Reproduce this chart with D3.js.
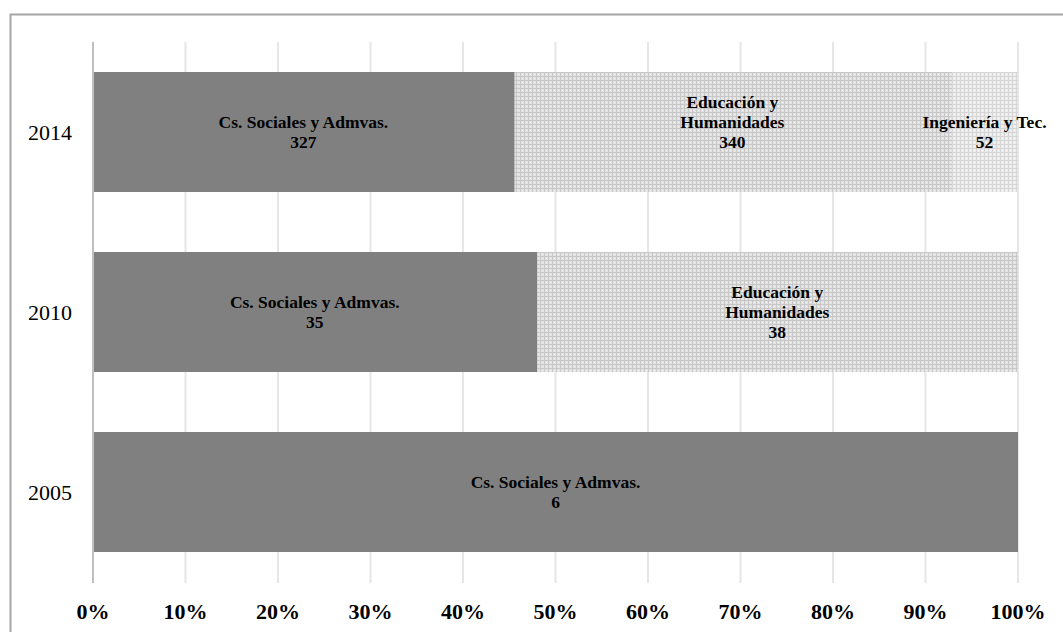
<!DOCTYPE html>
<html>
<head>
<meta charset="utf-8">
<script src="https://cdn.jsdelivr.net/npm/d3@7"></script>
<style>
  body { margin: 0; background: #fff; }
  svg { display: block; }
</style>
</head>
<body>
<div id="chart"></div>
<script>
// Data: counts per area and year (shown as share of the year total)
var years = ["2014", "2010", "2005"];
var areas = ["Cs. Sociales y Admvas.", "Educación y Humanidades", "Ingeniería y Tec."];
var sociales = [327, 35, 6];
var educacion = [340, 38, 0];
var ingenieria = [52, 0, 0];
var xTicks = [0, 0.1, 0.2, 0.3, 0.4, 0.5, 0.6, 0.7, 0.8, 0.9, 1];

// label lines for each area (how the original wraps them)
var labelLines = [
  ["Cs. Sociales y Admvas."],
  ["Educación y", "Humanidades"],
  ["Ingeniería y Tec."]
];

var width = 1063, height = 632;

var svg = d3.select("#chart")
  .append("svg")
  .attr("width", width)
  .attr("height", height);

// patterns for the light series
var defs = svg.append("defs");
var p1 = defs.append("pattern")
  .attr("id", "patEdu")
  .attr("width", 4).attr("height", 4)
  .attr("patternUnits", "userSpaceOnUse");
p1.append("rect").attr("width", 4).attr("height", 4).attr("fill", "#e2e2e2");
p1.append("rect").attr("width", 4).attr("height", 1).attr("fill", "#c8c8c8");
p1.append("rect").attr("width", 1).attr("height", 4).attr("fill", "#c8c8c8");
p1.append("rect").attr("x", 2).attr("y", 2).attr("width", 1).attr("height", 1).attr("fill", "#f4f4f4");

var p2 = defs.append("pattern")
  .attr("id", "patIng")
  .attr("width", 4).attr("height", 4)
  .attr("patternUnits", "userSpaceOnUse");
p2.append("rect").attr("width", 4).attr("height", 4).attr("fill", "#ececec");
p2.append("rect").attr("width", 4).attr("height", 1).attr("fill", "#d6d6d6");
p2.append("rect").attr("width", 1).attr("height", 4).attr("fill", "#d6d6d6");
p2.append("rect").attr("x", 2).attr("y", 2).attr("width", 1).attr("height", 1).attr("fill", "#fafafa");

// outer frame
svg.append("rect")
  .attr("x", 10.5).attr("y", 14.5)
  .attr("width", 1062).attr("height", 640)
  .attr("fill", "none")
  .attr("stroke", "#a6a6a6")
  .attr("stroke-width", 2);

var table = years.map(function(y, i) {
  return { year: y, s: sociales[i], e: educacion[i], g: ingenieria[i] };
});

var series = d3.stack()
  .keys(["s", "e", "g"])
  .offset(d3.stackOffsetExpand)(table);

var x = d3.scaleLinear().domain([0, 1]).range([93, 1018]);
var y = d3.scaleBand()
  .domain(years)
  .range([42, 582])
  .paddingInner(1 / 3)
  .paddingOuter(1 / 6);

var fills = ["#808080", "url(#patEdu)", "url(#patIng)"];

// gridlines
svg.append("g")
  .selectAll("line")
  .data(xTicks)
  .enter()
  .append("line")
  .attr("x1", d => x(d)).attr("x2", d => x(d))
  .attr("y1", 42).attr("y2", 583)
  .attr("stroke", d => d === 0 ? "#bfbfbf" : "#e6e6e6")
  .attr("stroke-width", 2);

// bars
var groups = svg.selectAll("g.series")
  .data(series)
  .enter()
  .append("g")
  .attr("class", "series")
  .attr("fill", (d, i) => fills[i]);

groups.selectAll("rect")
  .data(d => d.filter(v => v[1] > v[0]))
  .enter()
  .append("rect")
  .attr("x", d => x(d[0]) + 1)
  .attr("y", d => y(d.data.year))
  .attr("width", d => x(d[1]) - x(d[0]) - (d[1] === 1 ? 1 : 0))
  .attr("height", y.bandwidth());

// bar labels
series.forEach(function(s, si) {
  s.forEach(function(d) {
    if (d[1] <= d[0]) return;
    var val = d.data[s.key];
    var lines = labelLines[si].concat([String(val)]);
    var cx = (x(d[0]) + x(d[1])) / 2;
    var cy = y(d.data.year) + y.bandwidth() / 2;
    // the big 3-line label in the top bar sits a bit higher in the original
    if (lines.length === 3 && d.data.year === "2014") cy -= 10;
    var lh = 20;
    var t = svg.append("text")
      .attr("x", cx)
      .attr("text-anchor", "middle")
      .attr("font-family", "'Liberation Serif', 'Times New Roman', serif")
      .attr("font-weight", "bold")
      .attr("font-size", 17.5)
      .attr("fill", "#000");
    lines.forEach(function(line, li) {
      t.append("tspan")
        .attr("x", cx)
        .attr("y", cy + (li - (lines.length - 1) / 2) * lh + 6)
        .text(line);
    });
  });
});

// year labels
svg.append("g")
  .selectAll("text")
  .data(years)
  .enter()
  .append("text")
  .attr("x", 50)
  .attr("y", d => y(d) + y.bandwidth() / 2 + 8)
  .attr("text-anchor", "middle")
  .attr("font-family", "'Liberation Serif', 'Times New Roman', serif")
  .attr("font-size", 22)
  .text(d => d);

// x tick labels
svg.append("g")
  .selectAll("text")
  .data(xTicks)
  .enter()
  .append("text")
  .attr("x", d => x(d))
  .attr("y", 619)
  .attr("text-anchor", "middle")
  .attr("font-family", "'Liberation Serif', 'Times New Roman', serif")
  .attr("font-weight", "bold")
  .attr("font-size", 22)
  .text(d => d3.format(".0%")(d));
</script>
</body>
</html>
